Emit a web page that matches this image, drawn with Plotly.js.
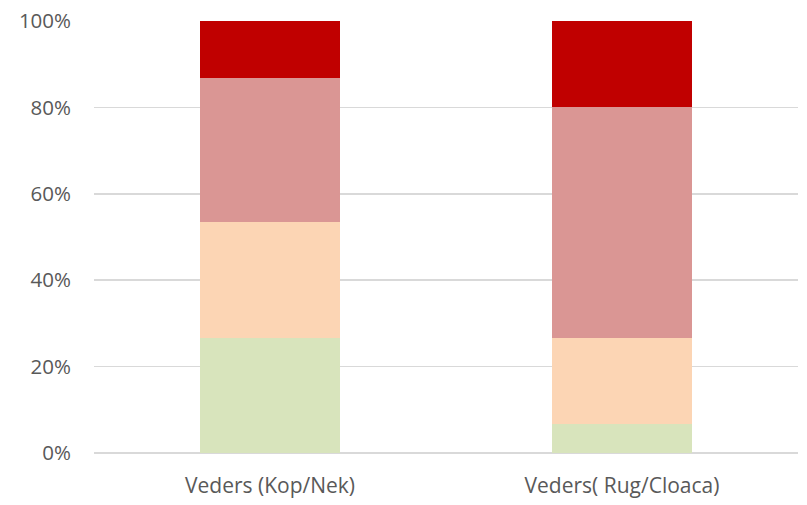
<!DOCTYPE html>
<html>
<head>
<meta charset="utf-8">
<script src="https://cdn.plot.ly/plotly-3.0.1.min.js"></script>
<style>html,body{margin:0;padding:0;background:#fff;}#chart{width:807px;height:505px;}</style>
</head>
<body>
<div id="chart"></div>
<script>
const categories = ["Veders (Kop/Nek)", "Veders( Rug/Cloaca)"];
const seriesNames = ["Groen", "Perzik", "Roze", "Rood"];
const greenVals = [26.7, 6.7];
const peachVals = [26.7, 20.0];
const pinkVals = [33.3, 53.3];
const redVals = [13.3, 20.0];
const tickVals = [0, 20, 40, 60, 80, 100];
const tickText = ["0%", "20%", "40%", "60%", "80%", "100%"];

const colors = ["#D8E4BC", "#FCD5B4", "#DA9694", "#C00000"];
const valsList = [greenVals, peachVals, pinkVals, redVals];
const traces = valsList.map((v, i) => ({
  type: "bar",
  x: categories,
  y: v,
  name: seriesNames[i],
  marker: {color: colors[i], line: {width: 0}},
  hoverinfo: "y"
}));

const layout = {
  width: 807, height: 505,
  margin: {l: 94, r: 9, t: 21, b: 52},
  barmode: "stack",
  barnorm: "percent",
  bargap: 0.6,
  showlegend: false,
  paper_bgcolor: "#fff",
  plot_bgcolor: "#fff",
  font: {family: "'Open Sans', sans-serif", size: 21, color: "#595959"},
  xaxis: {
    showgrid: false, showline: false, zeroline: false,
    ticks: "", ticklabelstandoff: 18,
    tickfont: {size: 21, color: "#595959"}
  },
  yaxis: {
    range: [0, 100], tickvals: tickVals, ticktext: tickText,
    showgrid: true, gridcolor: "#D9D9D9", gridwidth: 1.5,
    zeroline: true, zerolinecolor: "#D9D9D9", zerolinewidth: 1.5,
    showline: false, ticks: "", ticklabelstandoff: 22,
    tickfont: {size: 20.5, color: "#595959"}
  }
};
Plotly.newPlot("chart", traces, layout, {displayModeBar: false, staticPlot: true});
</script>
</body>
</html>
